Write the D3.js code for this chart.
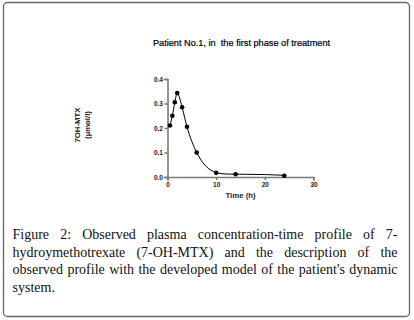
<!DOCTYPE html>
<html lang="en">
  <head>
    <meta charset="utf-8" />
    <title>7-OH-MTX – Patient No.1</title>
    <script src="https://d3js.org/d3.v7.min.js"></script>
    <style>
      body {
        margin: 0;
        background: #fff;
        font-family: 'Liberation Sans', Arial, sans-serif;
      }
      #chart {
        position: relative;
        width: 414px;
        height: 320px;
      }
      svg {
        position: absolute;
        left: 0;
        top: 0;
        display: block;
      }
      .axis path,
      .axis line {
        stroke: #7a7a7a;
        stroke-width: 1.6;
      }
      .axis text {
        font-family: 'Liberation Sans', Arial, sans-serif;
        font-size: 6.5px;
        font-weight: bold;
        fill: #222;
      }
      /* caption, justified line by line */
      .caption {
        position: absolute;
        left: 12.5px;
        top: 226px;
        width: 385px;
        font-family: 'Liberation Serif', 'Times New Roman', serif;
        font-size: 14px;
        line-height: 17.5px;
        color: #111;
      }
      .caption div {
        text-align: justify;
        text-align-last: justify;
        white-space: nowrap;
      }
      .caption div.last {
        text-align-last: left;
      }
    </style>
  </head>
  <body>
    <div id="chart"></div>

    <script>
      /* ----------------------------- DATA ----------------------------- */
      // observed points (time in h, concentration in µmol/l)
      const obsTime = [0.5, 1, 1.5, 2, 3, 4, 6, 10, 14, 24];
      const obsConc = [0.21, 0.25, 0.305, 0.343, 0.285, 0.205, 0.1, 0.017, 0.011, 0.005];

      // model curve
      const modelTime = [0.5, 1, 1.5, 2, 2.5, 3, 4, 5, 6, 7, 8, 9, 10, 11, 12, 16, 20, 24];
      const modelConc = [0.21, 0.25, 0.305, 0.343, 0.322, 0.285, 0.205, 0.145, 0.1, 0.066, 0.042, 0.027, 0.018, 0.014, 0.012, 0.011, 0.01, 0.007];

      const xTicks = [0, 10, 20, 30];
      const yTicks = [0, 0.1, 0.2, 0.3, 0.4];

      const title = 'Patient No.1, in  the first phase of treatment';
      const xLabel = 'Time (h)';
      const yLabel = ['7OH-MTX', '(µmol/l)'];
      const captionLines = [
        'Observed plasma concentration-time profile of 7-',
        'hydroymethotrexate (7-OH-MTX) and the description of the',
        'observed profile with the developed model of the patient\'s dynamic',
        'system.',
      ];

      /* ----------------------------- LAYOUT ----------------------------- */
      const W = 414,
        H = 320,
        plot = { l: 167.5, r: 313.5, t: 79, b: 177 };

      const svg = d3
        .select('#chart')
        .append('svg')
        .attr('width', W)
        .attr('height', H);

      // rounded frame around figure + caption
      svg
        .append('rect')
        .attr('x', 3.5)
        .attr('y', 2.5)
        .attr('width', 406)
        .attr('height', 314)
        .attr('rx', 4)
        .attr('fill', 'none')
        .attr('stroke', '#666')
        .attr('stroke-width', 1.3);

      /* ----------------------------- SCALES ----------------------------- */
      const x = d3.scaleLinear().domain([0, 30]).range([plot.l, plot.r]);
      const y = d3.scaleLinear().domain([0, 0.4]).range([plot.b, plot.t]);

      /* ----------------------------- AXES ----------------------------- */
      svg
        .append('g')
        .attr('class', 'axis')
        .attr('transform', `translate(0,${plot.b})`)
        .call(
          d3.axisBottom(x).tickValues(xTicks).tickSize(3).tickPadding(2).tickFormat(d3.format('d')),
        );

      svg
        .append('g')
        .attr('class', 'axis')
        .attr('transform', `translate(${plot.l},0)`)
        .call(
          d3.axisLeft(y).tickValues(yTicks).tickSize(3).tickPadding(1.5).tickFormat(d3.format('.1f')),
        );

      svg.selectAll('.axis .domain').attr('stroke-linecap', 'square');

      /* ----------------------------- TEXTS ----------------------------- */
      svg
        .append('text')
        .attr('x', 241.5)
        .attr('y', 46)
        .attr('text-anchor', 'middle')
        .attr('font-size', 9.2)
        .attr('fill', '#000')
        .attr('stroke', '#000')
        .attr('stroke-width', 0.2)
        .attr('xml:space', 'preserve')
        .style('white-space', 'pre')
        .text(title);

      svg
        .append('text')
        .attr('x', (plot.l + plot.r) / 2)
        .attr('y', 198)
        .attr('text-anchor', 'middle')
        .attr('font-size', 7.8)
        .attr('font-weight', 'bold')
        .attr('fill', '#222')
        .text(xLabel);

      svg
        .append('g')
        .selectAll('text')
        .data(yLabel)
        .join('text')
        .attr('transform', (d, i) => `translate(${80 + i * 10},125) rotate(-90)`)
        .attr('text-anchor', 'middle')
        .attr('font-size', 7.8)
        .attr('font-weight', 'bold')
        .attr('fill', '#222')
        .text((d) => d);

      /* ----------------------------- MARKS ----------------------------- */
      const model = modelTime.map((t, i) => ({ t, c: modelConc[i] }));
      const obs = obsTime.map((t, i) => ({ t, c: obsConc[i] }));

      const line = d3
        .line()
        .x((d) => x(d.t))
        .y((d) => y(d.c))
        .curve(d3.curveMonotoneX);

      svg
        .append('path')
        .datum(model)
        .attr('fill', 'none')
        .attr('stroke', '#000')
        .attr('stroke-width', 1)
        .attr('d', line);

      svg
        .append('g')
        .selectAll('circle')
        .data(obs)
        .join('circle')
        .attr('cx', (d) => x(d.t))
        .attr('cy', (d) => y(d.c))
        .attr('r', 2.3)
        .attr('fill', '#000');

      /* ----------------------------- CAPTION ----------------------------- */
      const cap = d3.select('#chart').append('div').attr('class', 'caption');
      cap
        .selectAll('div')
        .data(captionLines)
        .join('div')
        .classed('last', (d, i) => i === captionLines.length - 1)
        .text((d, i) => (i === 0 ? 'Figure 2: ' + d : d));
    </script>
  </body>
</html>
